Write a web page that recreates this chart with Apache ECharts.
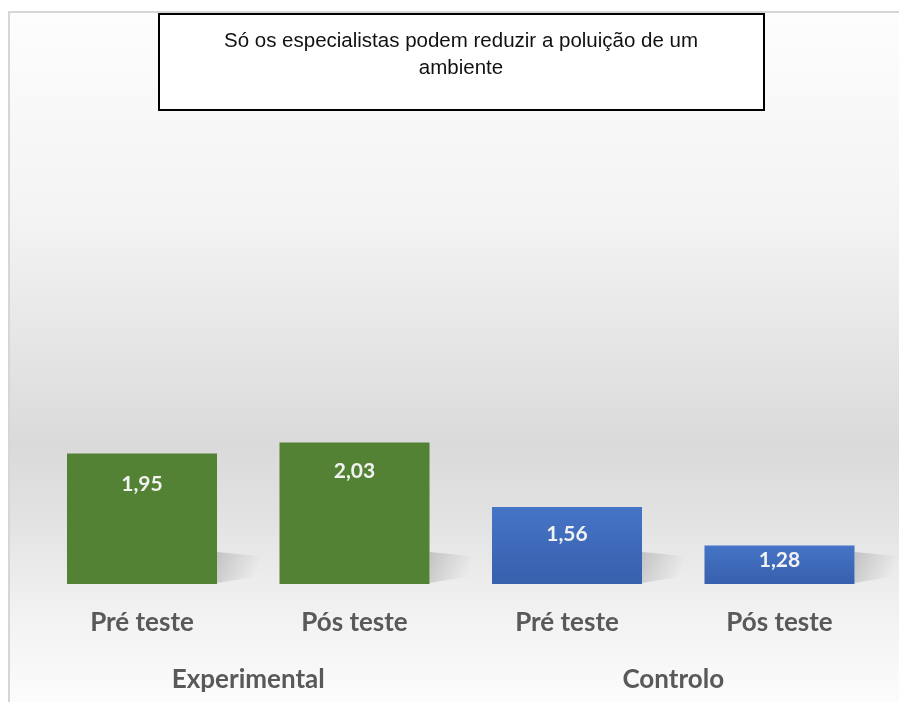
<!DOCTYPE html>
<html>
<head>
<meta charset="utf-8">
<script src="https://cdn.jsdelivr.net/npm/echarts@6/dist/echarts.min.js"></script>
<style>
  html, body { margin: 0; padding: 0; background: #fff; }
  #main { width: 899px; height: 702px; }
</style>
</head>
<body>
<div id="main"></div>
<script>
// dados do gráfico
var categorias = ['Pré teste', 'Pós teste', 'Pré teste', 'Pós teste'];
var grupos = ['Experimental', 'Controlo'];
var medias = [1.95, 2.03, 1.56, 1.28];
var titulo = 'Só os especialistas podem reduzir a poluição de um\nambiente';

var chart = echarts.init(document.getElementById('main'));

var verde = '#548235';
var azul = new echarts.graphic.LinearGradient(0, 0, 0, 1, [
    { offset: 0, color: '#4674c6' },
    { offset: 1, color: '#3760ad' }
]);
// distancia do rótulo ao topo da barra (como no Excel)
var distRotulo = [20, 18, 17, 4];

// sombra suave no canto inferior direito de cada barra
function sombra(params, api) {
    var topo = api.coord([api.value(0), api.value(1)]);
    var base = api.coord([api.value(0), 1]);
    var banda = api.size([1, 0])[0];
    var dir = topo[0] + banda * 0.353;
    var h = Math.min(base[1] - topo[1], 32);
    return {
        type: 'polygon',
        shape: {
            points: [
                [dir, base[1] - 1],
                [dir, base[1] - h],
                [dir + 42, base[1] - h + 4],
                [dir + 42, base[1] - 8]
            ]
        },
        style: {
            fill: new echarts.graphic.LinearGradient(0, 0, 1, 0.4, [
                { offset: 0, color: 'rgba(0,0,0,0.16)' },
                { offset: 0.5, color: 'rgba(0,0,0,0.08)' },
                { offset: 1, color: 'rgba(0,0,0,0)' }
            ])
        }
    };
}

var option = {
    backgroundColor: '#ffffff',
    animation: false,
    graphic: [
        {
            type: 'rect',
            z: -10,
            shape: { x: 9, y: 12, width: 900, height: 700 },
            style: {
                fill: new echarts.graphic.LinearGradient(0, 0, 0, 1, [
                    { offset: 0, color: '#fdfdfd' },
                    { offset: 0.3, color: '#f3f3f3' },
                    { offset: 0.62, color: '#dadada' },
                    { offset: 0.72, color: '#e2e2e2' },
                    { offset: 0.86, color: '#f2f2f2' },
                    { offset: 1, color: '#fdfdfd' }
                ]),
                stroke: '#d6d6d6',
                lineWidth: 2
            }
        },
        {
            type: 'group',
            left: 158,
            top: 13,
            children: [
                {
                    type: 'rect',
                    shape: { x: 0, y: 0, width: 605, height: 96 },
                    style: { fill: '#ffffff', stroke: '#000000', lineWidth: 2 }
                },
                {
                    type: 'text',
                    x: 302,
                    y: 14,
                    style: {
                        text: titulo,
                        fill: '#111111',
                        font: '20.5px "Liberation Sans", Arial, sans-serif',
                        textAlign: 'center',
                        lineHeight: 27
                    }
                }
            ]
        }
    ],
    grid: {
        left: 35.75,
        right: 13.25,
        top: 309,
        bottom: 118
    },
    xAxis: [
        {
            type: 'category',
            data: categorias,
            axisLine: { show: false },
            axisTick: { show: false },
            axisLabel: {
                color: '#595959',
                fontFamily: 'Lato',
                fontWeight: 'bold',
                fontSize: 26,
                margin: 26
            }
        },
        {
            type: 'category',
            position: 'bottom',
            data: grupos,
            axisLine: { show: false },
            axisTick: { show: false },
            axisLabel: {
                color: '#595959',
                fontFamily: 'Lato',
                fontWeight: 'bold',
                fontSize: 26,
                margin: 83
            }
        }
    ],
    yAxis: {
        type: 'value',
        min: 1,
        max: 3,
        show: false,
        splitLine: { show: false }
    },
    series: [
        {
            type: 'custom',
            xAxisIndex: 0,
            z: 1,
            silent: true,
            renderItem: sombra,
            data: medias.map(function (v, i) { return [i, v]; })
        },
        {
            type: 'bar',
            xAxisIndex: 0,
            z: 2,
            barCategoryGap: '29.4%',
            data: medias.map(function (v, i) {
                return {
                    value: v,
                    itemStyle: { color: i < 2 ? verde : azul },
                    label: { distance: distRotulo[i] }
                };
            }),
            label: {
                show: true,
                position: 'insideTop',
                color: '#f2f2f2',
                fontFamily: 'Lato',
                fontWeight: 'bold',
                fontSize: 21,
                formatter: function (p) {
                    return p.value.toFixed(2).replace('.', ',');
                }
            }
        }
    ]
};

chart.setOption(option);
</script>
</body>
</html>
